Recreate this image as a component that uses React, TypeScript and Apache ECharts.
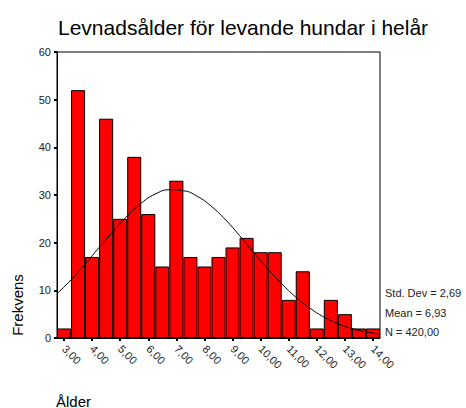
import React, { useEffect, useRef } from "react";
import * as echarts from "echarts";

const binCenters = [3, 3.5, 4, 4.5, 5, 5.5, 6, 6.5, 7, 7.5, 8, 8.5, 9, 9.5, 10, 10.5, 11, 11.5, 12, 12.5, 13, 13.5, 14];
const frequencies = [2, 52, 17, 46, 25, 38, 26, 15, 33, 17, 15, 17, 19, 21, 18, 18, 8, 14, 2, 8, 5, 2, 2];
const curveX = [2.75, 3.25, 3.75, 4.25, 4.75, 5.25, 5.75, 6.25, 6.75, 7.25, 7.75, 8.25, 8.75, 9.25, 9.75, 10.25, 10.75, 11.25, 11.75, 12.25, 12.75, 13.25, 13.75, 14.25];
const curveY = [9.3, 12.2, 15.5, 19.0, 22.4, 25.6, 28.3, 30.2, 31.1, 30.9, 29.7, 27.6, 24.8, 21.5, 18.0, 14.5, 11.4, 8.6, 6.3, 4.4, 3.0, 2.0, 1.3, 0.8];
const yTicks = [0, 10, 20, 30, 40, 50, 60];
const statsLines = ["Std. Dev = 2,69", "Mean = 6,93", "N = 420,00"];
const titleText = "Levnadsålder för levande hundar i helår";

const FONT = "'Liberation Sans', Arial, sans-serif";

export default function App() {
  const ref = useRef<HTMLDivElement>(null);
  useEffect(() => {
    if (!ref.current) return;
    const chart = echarts.init(ref.current, null, { renderer: "svg" });
    const fmt = (v: number) => v.toFixed(2).replace(".", ",");
    chart.setOption({
      animation: false,
      backgroundColor: "#ffffff",
      textStyle: { fontFamily: FONT },
      title: {
        text: titleText,
        left: 53,
        top: 12,
        textStyle: { fontSize: 21, fontWeight: "normal", color: "#000", fontFamily: FONT },
      },
      grid: {
        left: 57,
        right: 86,
        top: 52,
        bottom: 70,
        show: true,
        borderColor: "#000",
        borderWidth: 1,
        backgroundColor: "transparent",
      },
      xAxis: [
        {
          type: "category",
          data: binCenters.map(fmt),
          boundaryGap: true,
          axisLine: { show: true, lineStyle: { color: "#000", width: 1 } },
          axisTick: {
            show: true,
            alignWithLabel: true,
            interval: 1,
            length: 3,
            lineStyle: { color: "#000", width: 2 },
          },
          axisLabel: {
            interval: 1,
            rotate: -45,
            fontSize: 11,
            color: "#222",
            margin: 9,
            fontFamily: FONT,
          },
          splitLine: { show: false },
        },
        {
          type: "value",
          min: 2.75,
          max: 14.25,
          show: false,
          position: "bottom",
        },
      ],
      yAxis: {
        type: "value",
        min: 0,
        max: 60,
        interval: 10,
        axisLine: { show: true, lineStyle: { color: "#000", width: 1 } },
        axisTick: { show: true, length: 3, lineStyle: { color: "#000", width: 2 } },
        axisLabel: {
          fontSize: 11,
          color: "#222",
          margin: 6,
          fontFamily: FONT,
          formatter: (v: number) => (yTicks.includes(v) ? String(v) : ""),
        },
        splitLine: { show: false },
      },
      series: [
        {
          type: "bar",
          xAxisIndex: 0,
          data: frequencies,
          barCategoryGap: "0%",
          itemStyle: { color: "#ff0000", borderColor: "#000", borderWidth: 1 },
          z: 2,
        },
        {
          type: "line",
          xAxisIndex: 1,
          data: curveX.map((x, i) => [x, curveY[i]]),
          smooth: true,
          symbol: "none",
          lineStyle: { color: "#000", width: 1 },
          z: 3,
        },
      ],
      graphic: [
        {
          type: "text",
          x: 17,
          y: 305,
          rotation: Math.PI / 2,
          style: {
            text: "Frekvens",
            fontSize: 15,
            fill: "#000",
            fontFamily: FONT,
            textAlign: "center",
            textVerticalAlign: "middle",
          },
        },
        {
          type: "text",
          x: 56,
          y: 401,
          style: {
            text: "Ålder",
            fontSize: 15,
            fill: "#000",
            fontFamily: FONT,
            textAlign: "left",
            textVerticalAlign: "middle",
          },
        },
        ...statsLines.map((t, i) => ({
          type: "text",
          x: 385,
          y: 293 + i * 19.5,
          style: {
            text: t,
            fontSize: 11,
            fill: "#222",
            fontFamily: FONT,
            textAlign: "left",
            textVerticalAlign: "middle",
          },
        })),
      ],
    });
    return () => chart.dispose();
  }, []);
  return <div ref={ref} style={{ width: 466, height: 408, position: "absolute", left: 0, top: 0 }} />;
}
